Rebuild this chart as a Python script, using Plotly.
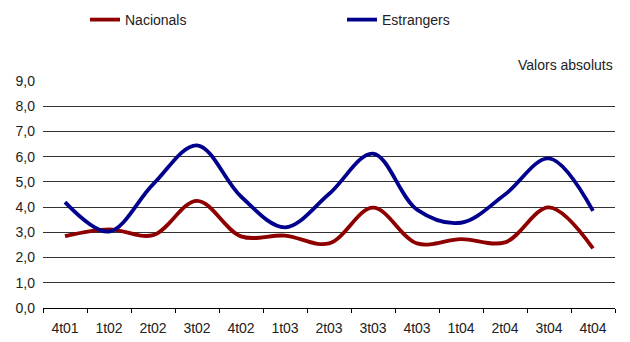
import plotly.graph_objects as go

quarters = ["4t01", "1t02", "2t02", "3t02", "4t02", "1t03", "2t03",
            "3t03", "4t03", "1t04", "2t04", "3t04", "4t04"]
nacionals = [2.85, 3.12, 2.89, 4.25, 2.84, 2.87, 2.56, 3.98, 2.56, 2.73, 2.60, 3.99, 2.36]
estrangers = [4.20, 3.03, 4.90, 6.45, 4.42, 3.20, 4.52, 6.12, 3.90, 3.38, 4.50, 5.93, 3.85]

FONT = "Liberation Sans"
TXT = "#222222"
W, H = 622, 334  # page adds an 8px body margin

fig = go.Figure()
fig.add_trace(go.Scatter(x=quarters, y=nacionals, name="Nacionals", mode="lines",
                         line=dict(color="#8e0000", width=3.8, shape="spline", smoothing=1)))
fig.add_trace(go.Scatter(x=quarters, y=estrangers, name="Estrangers", mode="lines",
                         line=dict(color="#00008c", width=3.8, shape="spline", smoothing=1)))

fig.update_layout(
    width=W, height=H,
    margin=dict(l=35, r=15, t=73, b=34, autoexpand=False),
    paper_bgcolor="white", plot_bgcolor="white",
    separators=",.",
    font=dict(family=FONT, size=14, color=TXT),
    showlegend=True,
    legend=dict(orientation="h", xref="container", yref="container",
                x=77 / W, xanchor="left", y=1 - 12 / H, yanchor="middle",
                entrywidth=212, entrywidthmode="pixels",
                font=dict(family=FONT, size=14, color=TXT),
                bgcolor="rgba(0,0,0,0)"),
    xaxis=dict(type="category", range=[-0.5, 12.5], tickson="boundaries",
               ticks="outside", ticklen=4,
               tickcolor="#000000", showline=True, linecolor="#000000", linewidth=1,
               showgrid=False, zeroline=False, ticklabelstandoff=7,
               tickfont=dict(family=FONT, size=14, color=TXT)),
    yaxis=dict(range=[0, 9], dtick=1, tick0=0, tickformat=".1f", showgrid=True,
               gridcolor="#333333", gridwidth=1, zeroline=False, showline=False,
               ticks="", ticklabelstandoff=7,
               tickfont=dict(family=FONT, size=14, color=TXT)),
    annotations=[dict(text="Valors absoluts", xref="paper", yref="paper", x=1.0, y=1.07,
                      xanchor="right", yanchor="middle", showarrow=False,
                      font=dict(family=FONT, size=14, color=TXT))],
)

fig.write_html("out.html")
